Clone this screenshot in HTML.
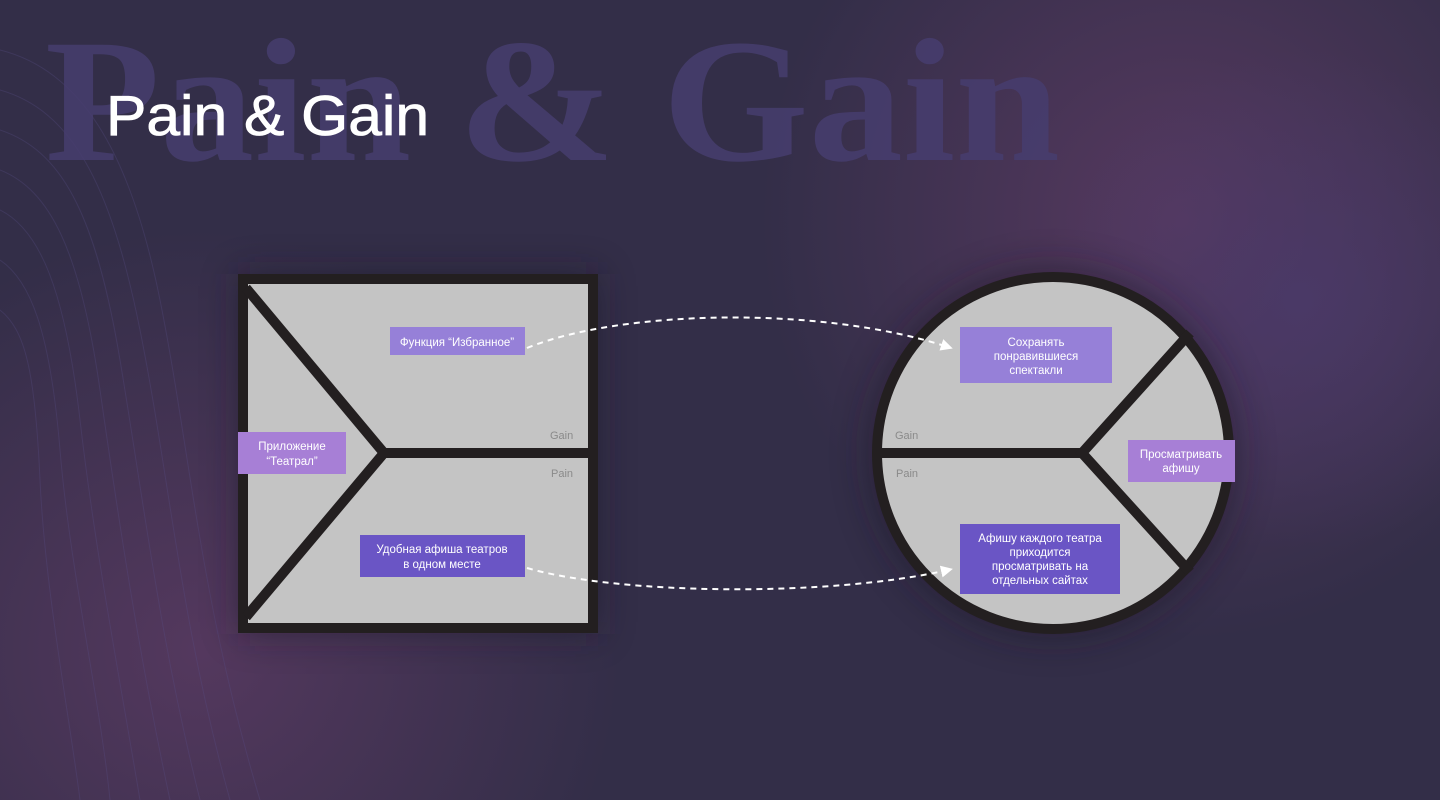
<!DOCTYPE html>
<html><head><meta charset="utf-8"><style>
html,body{margin:0;padding:0;width:1440px;height:800px;overflow:hidden;background:#332d48}
svg{display:block}
.l{font-family:"Liberation Sans","DejaVu Sans",sans-serif;font-size:11.5px;fill:#fff;text-anchor:middle}
.g{font-family:"Liberation Sans",sans-serif;font-size:11px;fill:#8a8a8a}
</style></head><body>
<svg width="1440" height="800" viewBox="0 0 1440 800" xmlns="http://www.w3.org/2000/svg">
<defs>
<radialGradient id="g1" cx="1180" cy="220" r="420" gradientUnits="userSpaceOnUse"><stop offset="0" stop-color="#5a3a62" stop-opacity=".9"/><stop offset="1" stop-color="#5a3a62" stop-opacity="0"/></radialGradient>
<radialGradient id="g2" cx="200" cy="650" r="420" gradientUnits="userSpaceOnUse"><stop offset="0" stop-color="#5a3a62" stop-opacity=".85"/><stop offset="1" stop-color="#5a3a62" stop-opacity="0"/></radialGradient>
<radialGradient id="g3" cx="1300" cy="300" r="250" gradientUnits="userSpaceOnUse"><stop offset="0" stop-color="#4a3a6a" stop-opacity=".8"/><stop offset="1" stop-color="#4a3a6a" stop-opacity="0"/></radialGradient>
<filter id="sh" x="-30%" y="-30%" width="160%" height="160%"><feGaussianBlur stdDeviation="18"/></filter>
<marker id="ar" markerWidth="12" markerHeight="12" refX="7" refY="6" orient="auto" markerUnits="userSpaceOnUse"><path d="M0,0 L12,6 L0,12 Z" fill="#fff"/></marker>
</defs>
<rect width="1440" height="800" fill="#332e48"/>
<rect width="1440" height="800" fill="url(#g1)"/>
<rect width="1440" height="800" fill="url(#g2)"/>
<rect width="1440" height="800" fill="url(#g3)"/>
<g fill="none" stroke="#5a4f88" stroke-opacity=".3" stroke-width="1">
<path d="M0,50 C80,70 130,150 160,300 S200,600 260,800"/>
<path d="M0,90 C70,110 110,180 140,330 S180,620 230,800"/>
<path d="M0,130 C60,150 95,210 120,360 S160,640 200,800"/>
<path d="M0,170 C50,190 80,250 100,390 S140,660 170,800"/>
<path d="M0,210 C40,230 65,290 80,420 S120,680 140,800"/>
<path d="M0,260 C30,280 50,330 60,450 S100,700 110,800"/>
<path d="M0,310 C25,330 35,370 40,480 S70,720 80,800"/>
</g>
<text x="45" y="160" font-family="Liberation Serif,serif" font-weight="bold" font-size="176" fill="#463d6f" fill-opacity=".85" textLength="1015" lengthAdjust="spacingAndGlyphs">Pain &amp; Gain</text>
<text x="106" y="135" font-family="Liberation Sans,sans-serif" font-size="57" fill="#fff" stroke="#fff" stroke-width="0.8" textLength="323" lengthAdjust="spacingAndGlyphs">Pain &amp; Gain</text>
<rect x="238" y="274" width="360" height="360" fill="#1a1528" opacity=".5" filter="url(#sh)"/>
<circle cx="1053" cy="453" r="185" fill="#1a1528" opacity=".5" filter="url(#sh)"/>
<rect x="243" y="279" width="350" height="349" fill="#c4c4c4" stroke="#231f20" stroke-width="10"/>
<g stroke="#231f20" stroke-width="10" fill="none">
<path d="M246,288 L384,453 L246,617"/>
<path d="M384,453 L590,453"/>
</g>
<text class="g" x="550" y="439">Gain</text>
<text class="g" x="551" y="477">Pain</text>
<circle cx="1053" cy="453" r="176" fill="#c4c4c4" stroke="#231f20" stroke-width="10"/>
<g stroke="#231f20" stroke-width="10" fill="none">
<path d="M874,453 L1082,453"/>
<path d="M1190,333 L1082,453 L1190,572"/>
</g>
<text class="g" x="895" y="439">Gain</text>
<text class="g" x="896" y="477">Pain</text>
<rect x="390" y="327" width="135" height="28" fill="#9680d8"/>
<text class="l" x="457" y="346">Функция “Избранное”</text>
<rect x="238" y="432" width="108" height="42" fill="#a77fd6"/>
<text class="l" x="292" y="450">Приложение</text><text class="l" x="292" y="465">“Театрал”</text>
<rect x="360" y="535" width="165" height="42" fill="#6a55c5"/>
<text class="l" x="442" y="553">Удобная афиша театров</text><text class="l" x="442" y="568">в одном месте</text>
<rect x="960" y="327" width="152" height="56" fill="#9680d8"/>
<text class="l" x="1036" y="346">Сохранять</text><text class="l" x="1036" y="360">понравившиеся</text><text class="l" x="1036" y="374">спектакли</text>
<rect x="1128" y="440" width="107" height="42" fill="#a77fd6"/>
<text class="l" x="1181" y="458">Просматривать</text><text class="l" x="1181" y="472">афишу</text>
<rect x="960" y="524" width="160" height="70" fill="#6a55c5"/>
<text class="l" x="1040" y="542">Афишу каждого театра</text><text class="l" x="1040" y="556">приходится</text><text class="l" x="1040" y="570">просматривать на</text><text class="l" x="1040" y="584">отдельных сайтах</text>
<g stroke="#fff" stroke-width="2" stroke-dasharray="6,5" fill="none">
<path d="M527,348 C620,310 820,305 948,347" marker-end="url(#ar)"/>
<path d="M527,568 C620,595 830,597 948,570" marker-end="url(#ar)"/>
</g>
</svg>
</body></html>
